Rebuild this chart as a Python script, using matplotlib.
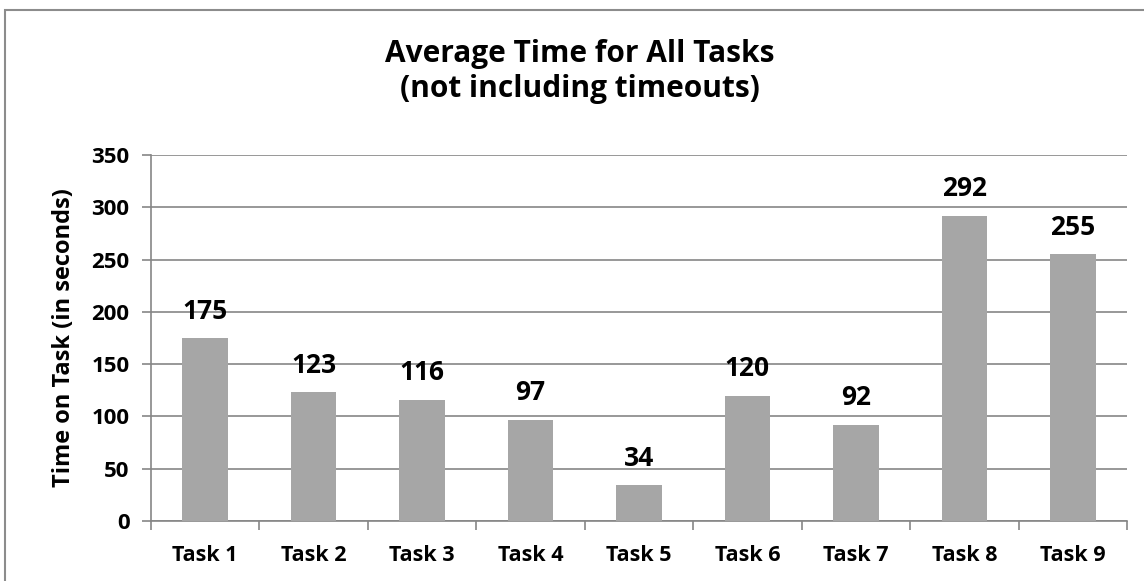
import matplotlib.pyplot as plt
from matplotlib.patches import Rectangle

tasks = ["Task 1", "Task 2", "Task 3", "Task 4", "Task 5", "Task 6", "Task 7", "Task 8", "Task 9"]
times = [175, 123, 116, 97, 34, 120, 92, 292, 255]
y_ticks = [0, 50, 100, 150, 200, 250, 300, 350]

W, H = 1144, 581
plt.rcParams['font.family'] = ['Open Sans', 'DejaVu Sans']
plt.rcParams['font.weight'] = 'bold'

fig = plt.figure(figsize=(W / 100, H / 100), dpi=100)
ax = fig.add_axes([151 / W, 1 - 521 / H, (1127 - 151) / W, (521 - 155) / H])

# outer chart border (only top/left visible, rest is cropped)
fig.patches.append(Rectangle((5 / W, -0.05), 1.1, 1 - 10 / H + 0.05,
                             transform=fig.transFigure, fill=False,
                             edgecolor='#8c8c8c', linewidth=1.5))

x = range(len(tasks))
ax.bar(x, times, width=0.42, color='#a6a6a6', zorder=3)
for i, v in enumerate(times):
    ax.annotate(str(v), (i, v), xytext=(0, 14), textcoords='offset points',
                ha='center', va='baseline', fontsize=19, fontweight='bold')

ax.set_xlim(-0.5, len(tasks) - 0.5)
ax.set_ylim(0, 350)
ax.set_yticks(y_ticks)
ax.set_xticks([i - 0.5 for i in range(len(tasks) + 1)], minor=False)
ax.set_xticklabels([])
ax.set_xticks(list(x), minor=True)
ax.set_xticklabels(tasks, minor=True, fontsize=15.5, fontweight='bold')
ax.tick_params(axis='x', which='minor', length=0, pad=17)
ax.tick_params(axis='x', which='major', length=6.5, width=1.2, color='#868686', direction='out')
ax.tick_params(axis='y', length=6.5, width=1.2, color='#868686', labelsize=16, pad=9)
for lab in ax.get_yticklabels():
    lab.set_fontweight('bold')

ax.grid(axis='y', color='#868686', linewidth=1.2, zorder=0)
for side in ['top', 'right']:
    ax.spines[side].set_visible(False)
for side in ['left', 'bottom']:
    ax.spines[side].set_color('#868686')
    ax.spines[side].set_linewidth(1.2)

ax.set_ylabel("Time on Task (in seconds)", fontsize=17, fontweight='bold', labelpad=11)

# two-line title
fig.text(580 / W, 1 - 62 / H, "Average Time for All Tasks",
         ha='center', va='baseline', fontsize=21.5, fontweight='bold')
fig.text(580 / W, 1 - 97 / H, "(not including timeouts)",
         ha='center', va='baseline', fontsize=21.5, fontweight='bold')

fig.savefig("out.png", dpi=100)
